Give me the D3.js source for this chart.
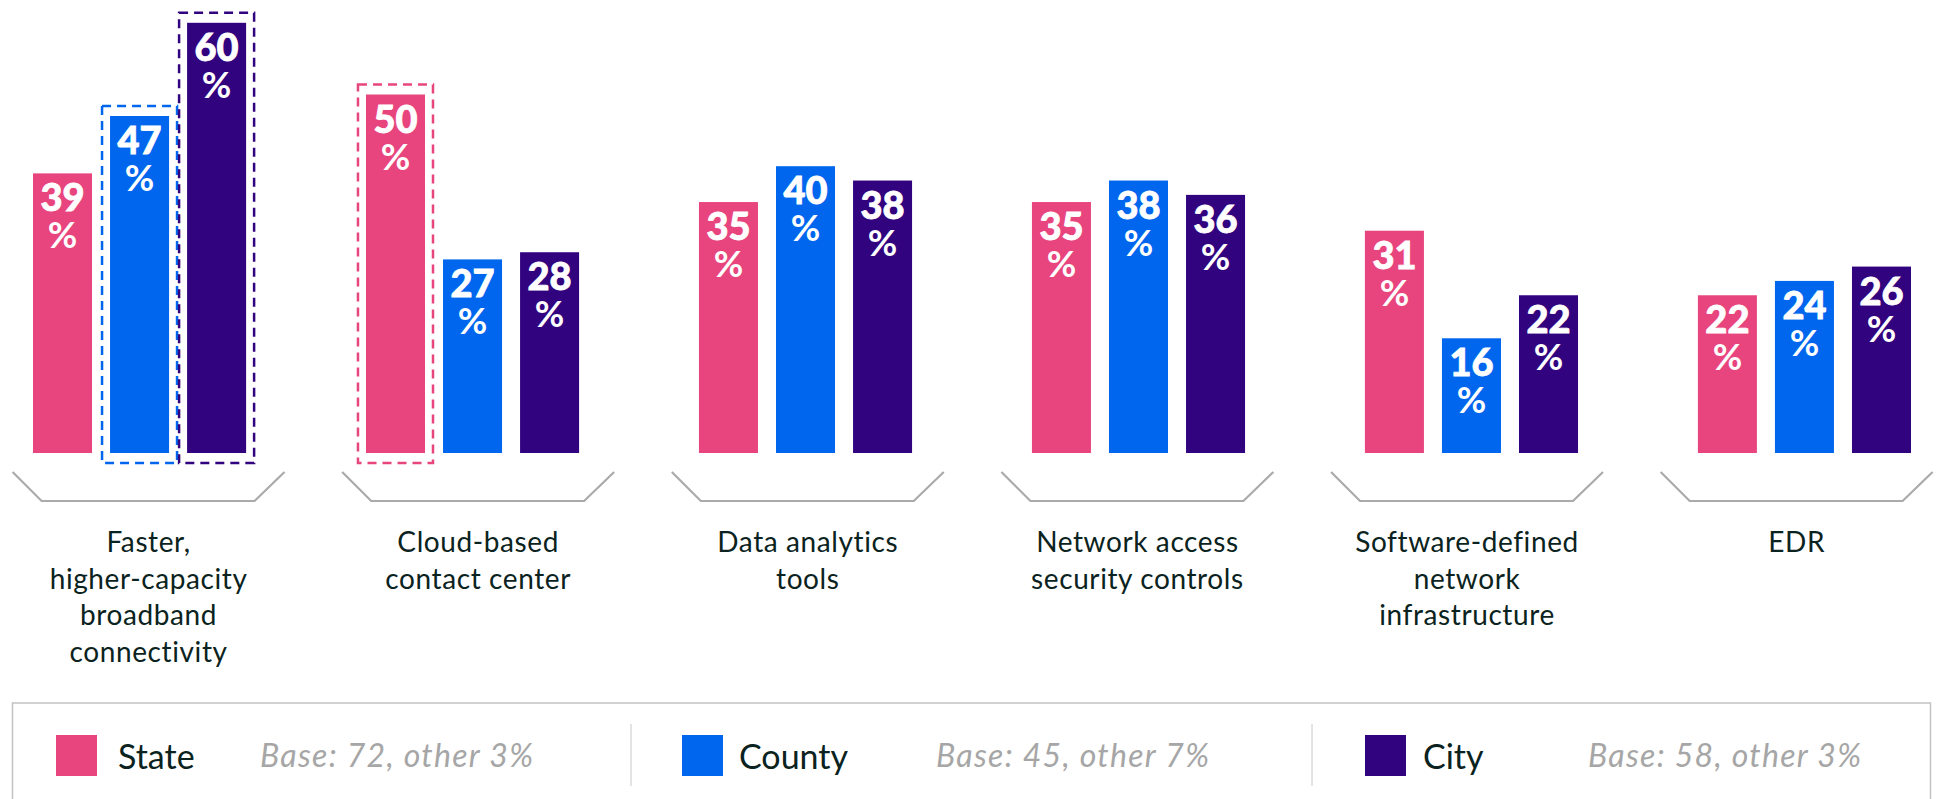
<!DOCTYPE html>
<html>
<head>
<meta charset="utf-8">
<script src="https://cdn.jsdelivr.net/npm/d3@7"></script>
<style>
  body { margin: 0; background: #fff; }
  text { font-family: Lato, "Open Sans", sans-serif; }
</style>
</head>
<body>
<script>
// Grouped bar chart: state / county / city

const categories = [
  "Faster, higher-capacity broadband connectivity",
  "Cloud-based contact center",
  "Data analytics tools",
  "Network access security controls",
  "Software-defined network infrastructure",
  "EDR"
];
// how each category label wraps
const labelLines = [
  ["Faster,", "higher-capacity", "broadband", "connectivity"],
  ["Cloud-based", "contact center"],
  ["Data analytics", "tools"],
  ["Network access", "security controls"],
  ["Software-defined", "network", "infrastructure"],
  ["EDR"]
];
const seriesNames = ["State", "County", "City"];
const stateVals  = [39, 50, 35, 35, 31, 22];
const countyVals = [47, 27, 40, 38, 16, 24];
const cityVals   = [60, 28, 38, 36, 22, 26];
const bases = ["Base: 72, other 3%", "Base: 45, other 7%", "Base: 58, other 3%"];
// bars outlined with a dashed box
const highlighted = [[0, "County"], [0, "City"], [1, "State"]];

const colors = ["#E8457E", "#0066EE", "#32037F"];

const width = 1937, height = 799;

const svg = d3.select("body").append("svg")
    .attr("width", width)
    .attr("height", height);

const values = [stateVals, countyVals, cityVals];
const rows = [];
categories.forEach((c, i) => {
    seriesNames.forEach((s, j) => {
        rows.push({cat: c, idx: i, series: s, sIdx: j, value: values[j][i]});
    });
});

const y = d3.scaleLinear().domain([0, 100]).range([453, 453 - 717]);

const x0 = d3.scaleBand().domain(categories).range([33, 1911]).paddingInner(0.36);
const x1 = d3.scaleBand().domain(seriesNames).range([0, x0.bandwidth()]).paddingInner(0.234);
const xb = d3.scaleBand().domain(categories).range([12.6, 1932.6]).paddingInner(0.175);
const color = d3.scaleOrdinal().domain(seriesNames).range(colors);

const chart = svg.append("g");

// dashed highlight boxes
const hl = rows.filter(r => highlighted.some(h => h[0] === r.idx && h[1] === r.series));
chart.selectAll(".hl-box")
    .data(hl)
    .join("rect")
    .attr("class", "hl-box")
    .attr("x", d => x0(d.cat) + x1(d.series) - 8)
    .attr("y", d => y(d.value) - 10)
    .attr("width", x1.bandwidth() + 16)
    .attr("height", d => y(0) - y(d.value) + 20)
    .attr("fill", "none")
    .attr("stroke", d => color(d.series))
    .attr("stroke-width", 2.5)
    .attr("stroke-dasharray", "9,6");

chart.selectAll(".bar")
    .data(rows)
    .join("rect")
    .attr("class", "bar")
    .attr("x", d => x0(d.cat) + x1(d.series))
    .attr("y", d => y(d.value))
    .attr("width", x1.bandwidth())
    .attr("height", d => y(0) - y(d.value))
    .attr("fill", d => color(d.series));

const cx = d => x0(d.cat) + x1(d.series) + x1.bandwidth() / 2;

chart.selectAll(".val")
    .data(rows)
    .join("text")
    .attr("class", "val")
    .attr("text-anchor", "middle")
    .attr("fill", "#fff")
    .attr("stroke", "#fff")
    .attr("stroke-width", 0.8)
    .attr("font-weight", 900)
    .attr("font-size", 38)
    .attr("x", cx)
    .attr("y", d => y(d.value) + 38)
    .text(d => d.value);

chart.selectAll(".pct")
    .data(rows)
    .join("text")
    .attr("class", "pct")
    .attr("text-anchor", "middle")
    .attr("fill", "#fff")
    .attr("font-weight", 700)
    .attr("font-size", 36)
    .attr("x", cx)
    .attr("y", d => y(d.value) + 75)
    .text("%");

// brackets under each group
chart.selectAll(".bracket")
    .data(categories)
    .join("path")
    .attr("class", "bracket")
    .attr("d", c => {
        const a = xb(c), b = a + xb.bandwidth();
        return `M${a},472 L${a + 29},501 L${b - 30},501 L${b},472`;
    })
    .attr("fill", "none")
    .attr("stroke", "#aaaaaa")
    .attr("stroke-width", 2.2);

const cl = chart.selectAll(".cat-label")
    .data(categories)
    .join("text")
    .attr("class", "cat-label")
    .attr("text-anchor", "middle")
    .attr("fill", "#0b2320")
    .attr("font-size", 28)
    .attr("letter-spacing", 0.6);
cl.selectAll("tspan")
    .data((c, i) => labelLines[i].map(t => ({c, t})))
    .join("tspan")
    .attr("x", d => xb(d.c) + xb.bandwidth() / 2)
    .attr("y", (d, k) => 552 + k * 36.7)
    .text(d => d.t);

// legend
const legend = svg.append("g");
legend.append("rect")
    .attr("x", 12.5).attr("y", 703)
    .attr("width", 1918).attr("height", 120)
    .attr("fill", "none")
    .attr("stroke", "#c2c2c2")
    .attr("stroke-width", 1.5);

const legX = [56, 682, 1365];
const nameX = [118, 739, 1423];
const baseX = [260, 936, 1588];

legend.selectAll(".sep")
    .data([631, 1312])
    .join("line")
    .attr("x1", d => d).attr("x2", d => d)
    .attr("y1", 724).attr("y2", 786)
    .attr("stroke", "#c8c8c8")
    .attr("stroke-width", 1);

legend.selectAll(".sw")
    .data(seriesNames)
    .join("rect")
    .attr("x", (d, i) => legX[i])
    .attr("y", 735)
    .attr("width", 41).attr("height", 41)
    .attr("fill", d => color(d));

legend.selectAll(".lname")
    .data(seriesNames)
    .join("text")
    .attr("x", (d, i) => nameX[i])
    .attr("y", 769)
    .attr("font-size", 34)
    .attr("fill", "#0b2320")
    .text(d => d);

legend.selectAll(".lbase")
    .data(bases)
    .join("text")
    .attr("x", (d, i) => baseX[i])
    .attr("y", 767)
    .attr("font-size", 32)
    .attr("letter-spacing", 1.3)
    .attr("font-style", "italic")
    .attr("fill", "#a6a6a6")
    .text(d => d);
</script>
</body>
</html>
